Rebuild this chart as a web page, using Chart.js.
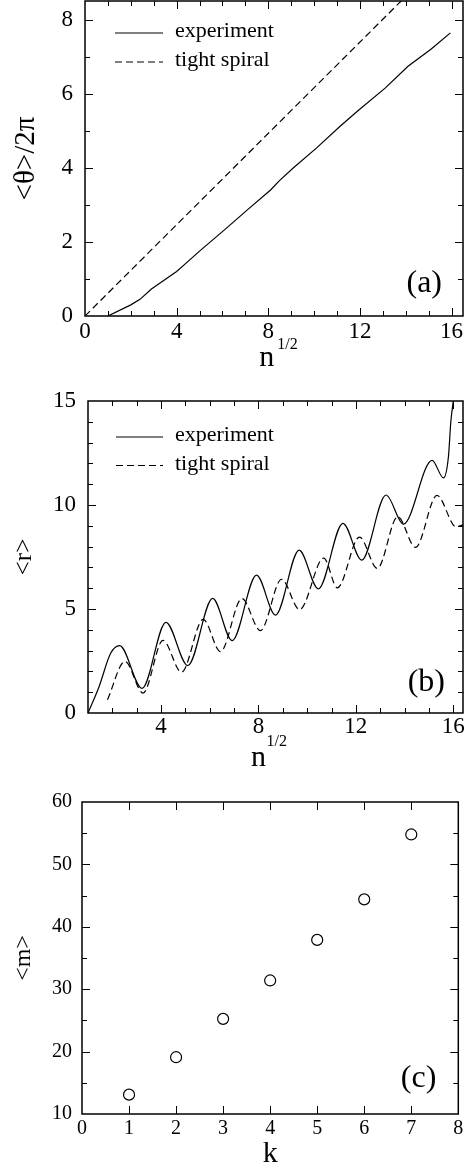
<!DOCTYPE html>
<html>
<head>
<meta charset="utf-8">
<script src="https://cdn.jsdelivr.net/npm/chart.js@4"></script>
<style>
  html, body { margin: 0; padding: 0; background: #fff; }
  body { width: 465px; height: 1162px; position: relative; overflow: hidden; }
  canvas { position: absolute; left: 0; }
</style>
</head>
<body>
<canvas id="chartA" width="465" height="380" style="top:0"></canvas>
<canvas id="chartB" width="465" height="400" style="top:380px"></canvas>
<canvas id="chartC" width="465" height="382" style="top:780px"></canvas>
<script>
// ---- data ----
// (a) <theta>/2pi against n^1/2
const thetaExpX = [1.0, 2.0, 2.4, 2.9, 4.0, 4.4, 5.0, 6.1, 7.1, 8.1, 8.5, 9.1, 10.1, 11.1, 11.9, 13.1, 14.1, 15.1, 15.95];
const thetaExpY = [0, 0.3, 0.45, 0.73, 1.2, 1.42, 1.75, 2.33, 2.87, 3.4, 3.66, 4.0, 4.53, 5.1, 5.53, 6.15, 6.74, 7.2, 7.64];
const thetaSpiralX = [0, 13.8];
const thetaSpiralY = [0, 8.5];

// (b) <r> against n^1/2
const rExpX = [1.0, 1.45, 1.93, 2.3, 3.22, 4.2, 5.1, 6.12, 6.92, 7.92, 8.7, 9.67, 10.46, 11.47, 12.24, 13.24, 13.95, 15.13, 15.6, 15.8, 15.9, 16.0];
const rExpY = [0, 1.25, 2.87, 3.24, 1.18, 4.36, 2.28, 5.51, 3.48, 6.63, 4.71, 7.83, 5.97, 9.12, 7.35, 10.48, 9.08, 12.15, 11.3, 12.3, 14.0, 15.0];
const rSpiralX = [1.8, 2.52, 3.26, 4.08, 4.84, 5.73, 6.44, 7.32, 8.08, 8.95, 9.69, 10.68, 11.24, 12.15, 12.88, 13.72, 14.45, 15.33, 16.12, 16.4];
const rSpiralY = [0.64, 2.48, 0.96, 3.49, 1.96, 4.5, 2.95, 5.5, 3.96, 6.43, 4.97, 7.45, 6.02, 8.46, 6.95, 9.44, 7.96, 10.46, 8.95, 9.05];

// (c) <m> against k
const kVals = [1, 2, 3, 4, 5, 6, 7];
const mVals = [13.1, 19.1, 25.25, 31.4, 37.9, 44.4, 54.8];

// tick labels
const ticksAx = [0, 4, 8, 12, 16];
const ticksAy = [0, 2, 4, 6, 8];
const ticksBx = [4, 8, 12, 16];
const ticksBy = [0, 5, 10, 15];
const ticksCx = [0, 1, 2, 3, 4, 5, 6, 7, 8];
const ticksCy = [10, 20, 30, 40, 50, 60];

const legendNames = ['experiment', 'tight spiral'];

const serif = "'Liberation Serif', 'Times New Roman', serif";

function pts(xs, ys) {
  return xs.map((x, i) => ({x: x, y: ys[i]}));
}

// frame, inward ticks on all sides, legend, panel tag and the x title
const framePlugin = {
  id: 'frame',
  afterDraw(chart, args, opts) {
    const ctx = chart.ctx;
    const a = chart.chartArea;
    const xs = chart.scales.x, ys = chart.scales.y;
    ctx.save();
    ctx.strokeStyle = '#000';
    ctx.fillStyle = '#000';

    ctx.lineWidth = 1;
    function xTick(v, len) {
      const p = Math.round(xs.getPixelForValue(v)) + 0.5;
      ctx.beginPath();
      ctx.moveTo(p, a.bottom); ctx.lineTo(p, a.bottom - len);
      ctx.moveTo(p, a.top); ctx.lineTo(p, a.top + len);
      ctx.stroke();
    }
    function yTick(v, len) {
      const p = Math.round(ys.getPixelForValue(v)) + 0.5;
      ctx.beginPath();
      ctx.moveTo(a.left, p); ctx.lineTo(a.left + len, p);
      ctx.moveTo(a.right, p); ctx.lineTo(a.right - len, p);
      ctx.stroke();
    }
    if (opts.minorX) {
      for (let v = Math.ceil(xs.min / opts.minorX) * opts.minorX; v < xs.max; v += opts.minorX) {
        if (v > xs.min) xTick(v, 5);
      }
    }
    if (opts.minorY) {
      for (let v = Math.ceil(ys.min / opts.minorY) * opts.minorY; v < ys.max; v += opts.minorY) {
        if (v > ys.min) yTick(v, 5);
      }
    }
    xs.ticks.forEach(t => { if (t.value > xs.min && t.value < xs.max) xTick(t.value, 8); });
    ys.ticks.forEach(t => { if (t.value > ys.min && t.value < ys.max) yTick(t.value, 8); });

    ctx.lineWidth = 1.5;
    ctx.strokeRect(a.left, a.top, a.right - a.left, a.bottom - a.top);

    // legend
    if (opts.legend) {
      const L = opts.legend;
      ctx.lineWidth = 1.2;
      ctx.font = '22px ' + serif;
      ctx.textBaseline = 'middle';
      ctx.textAlign = 'left';
      legendNames.forEach((name, i) => {
        const y = a.top + L.y0 + i * L.gap;
        ctx.setLineDash(i === 0 ? [] : [7, 4]);
        ctx.beginPath();
        ctx.moveTo(a.left + L.x0, y);
        ctx.lineTo(a.left + L.x1, y);
        ctx.stroke();
        ctx.fillText(name, a.left + L.tx, y - 1.5);
      });
      ctx.setLineDash([]);
    }

    // panel tag
    ctx.font = '32px ' + serif;
    ctx.textAlign = 'right';
    ctx.textBaseline = 'alphabetic';
    ctx.fillText(opts.tag, a.right - opts.tagDx, a.bottom - opts.tagDy);

    // x title
    const T = opts.xTitle;
    const cx = T.at === null ? (a.left + a.right) / 2 : xs.getPixelForValue(T.at) + T.dx;
    ctx.font = '30px ' + serif;
    ctx.textAlign = 'center';
    ctx.fillText(T.text, cx, a.bottom + T.dy);
    if (T.sup) {
      ctx.font = '16px ' + serif;
      ctx.textAlign = 'left';
      ctx.fillText(T.sup, xs.getPixelForValue(T.at) + T.supDx, a.bottom + T.supDy);
    }
    ctx.restore();
  }
};

function fixedScale(size, tickList, horizontal) {
  return {
    afterFit(scale) {
      if (horizontal) scale.height = size; else scale.width = size;
      scale.paddingLeft = 0; scale.paddingRight = 0;
      scale.paddingTop = 0; scale.paddingBottom = 0;
    },
    afterBuildTicks(scale) {
      scale.ticks = tickList.map(v => ({value: v}));
    }
  };
}

function axis(min, max, tickList, size, horizontal, fontSize, pad, title) {
  const s = Object.assign({
    type: 'linear',
    min: min,
    max: max,
    grid: {display: false, drawTicks: false},
    border: {display: false},
    ticks: {
      autoSkip: false,
      maxRotation: 0,
      padding: pad,
      color: '#000',
      font: {family: serif, size: fontSize, lineHeight: 1}
    }
  }, fixedScale(size, tickList, horizontal));
  if (title) {
    s.title = {
      display: true,
      text: title.text,
      color: '#000',
      font: {family: serif, size: title.size, lineHeight: 1},
      padding: {top: title.pad, bottom: 0}
    };
  }
  return s;
}

const lineStyle = {
  borderColor: '#000',
  borderWidth: 1.2,
  pointRadius: 0,
  fill: false,
  showLine: true
};

// (a)
new Chart(document.getElementById('chartA'), {
  type: 'scatter',
  data: {
    datasets: [
      Object.assign({label: legendNames[0], data: pts(thetaExpX, thetaExpY), tension: 0}, lineStyle),
      Object.assign({label: legendNames[1], data: pts(thetaSpiralX, thetaSpiralY), borderDash: [7, 4]}, lineStyle)
    ]
  },
  options: {
    responsive: false,
    animation: false,
    layout: {padding: {top: 1, right: 2, left: 0, bottom: 0}},
    scales: {
      x: axis(0, 16.5, ticksAx, 64, true, 23, 4),
      y: axis(0, 8.5, ticksAy, 85, false, 23, 12, {text: '<θ>/2π', size: 29, pad: 12})
    },
    plugins: {
      legend: {display: false},
      tooltip: {enabled: false},
      frame: {
        minorX: 1, minorY: 1,
        legend: {x0: 30, x1: 78, tx: 90, y0: 32, gap: 29},
        tag: '(a)', tagDx: 21, tagDy: 24,
        xTitle: {text: 'n', at: 8, dx: -1.5, dy: 50, sup: '1/2', supDx: 9, supDy: 33}
      }
    }
  },
  plugins: [framePlugin]
});

// (b)
new Chart(document.getElementById('chartB'), {
  type: 'scatter',
  data: {
    datasets: [
      Object.assign({label: legendNames[0], data: pts(rExpX, rExpY), cubicInterpolationMode: 'monotone'}, lineStyle),
      Object.assign({label: legendNames[1], data: pts(rSpiralX, rSpiralY), cubicInterpolationMode: 'monotone', borderDash: [7, 4]}, lineStyle)
    ]
  },
  options: {
    responsive: false,
    animation: false,
    layout: {padding: {top: 21, right: 2, left: 0, bottom: 0}},
    scales: {
      x: axis(1, 16.4, ticksBx, 67, true, 23, 2),
      y: axis(0, 15, ticksBy, 88, false, 23, 12, {text: '<r>', size: 25, pad: 11.5})
    },
    plugins: {
      legend: {display: false},
      tooltip: {enabled: false},
      frame: {
        minorX: 1, minorY: 1,
        legend: {x0: 28, x1: 75, tx: 87, y0: 36, gap: 28.5},
        tag: '(b)', tagDx: 18, tagDy: 22,
        xTitle: {text: 'n', at: 8, dx: 0, dy: 53, sup: '1/2', supDx: 8, supDy: 33}
      }
    }
  },
  plugins: [framePlugin]
});

// (c)
new Chart(document.getElementById('chartC'), {
  type: 'scatter',
  data: {
    datasets: [{
      data: pts(kVals, mVals),
      pointStyle: 'circle',
      pointRadius: 5.5,
      pointBorderWidth: 1.2,
      pointBackgroundColor: '#fff',
      pointBorderColor: '#000'
    }]
  },
  options: {
    responsive: false,
    animation: false,
    layout: {padding: {top: 22, right: 6, left: 0, bottom: 0}},
    scales: {
      x: axis(0, 8, ticksCx, 48, true, 20, 5),
      y: axis(10, 60, ticksCy, 82, false, 20, 10, {text: '<m>', size: 24, pad: 11.5})
    },
    plugins: {
      legend: {display: false},
      tooltip: {enabled: false},
      frame: {
        minorX: 0, minorY: 5,
        tag: '(c)', tagDx: 22, tagDy: 27,
        xTitle: {text: 'k', at: null, dx: 0, dy: 48}
      }
    }
  },
  plugins: [framePlugin]
});
</script>
</body>
</html>
